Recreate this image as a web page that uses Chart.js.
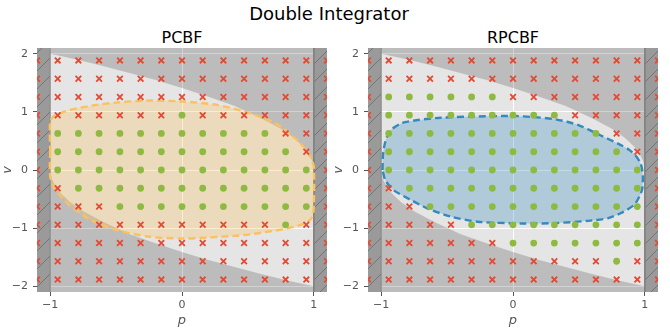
<!DOCTYPE html>
<html>
<head>
<meta charset="utf-8">
<script src="https://cdn.jsdelivr.net/npm/chart.js@4.4.0/dist/chart.umd.min.js"></script>
<style>
  body { margin: 0; background: #fff; font-family: "DejaVu Sans", sans-serif; }
  #wrap { position: relative; width: 670px; height: 333px; overflow: hidden; }
  canvas { position: absolute; top: 0; }
  .ttl { position: absolute; transform: translate(-50%, -50%); white-space: nowrap; color: #000; }
</style>
</head>
<body>
<div id="wrap">
  <div class="ttl" style="left:329px; top:13px; font-size:18px;">Double Integrator</div>
  <div class="ttl" style="left:182px; top:37px; font-size:16px;">PCBF</div>
  <div class="ttl" style="left:513px; top:37px; font-size:16px;">RPCBF</div>
  <canvas id="pcbf" width="335" height="333" style="left:0px"></canvas>
  <canvas id="rpcbf" width="335" height="333" style="left:331px"></canvas>
</div>
<script>
// grid of sampled states
const pGrid = [-1.1, -0.943, -0.786, -0.629, -0.471, -0.314, -0.157, 0, 0.157, 0.314, 0.471, 0.629, 0.786, 0.943, 1.1];
const vGrid = [1.886, 1.571, 1.257, 0.943, 0.629, 0.314, 0, -0.314, -0.629, -0.943, -1.257, -1.571, -1.886];

const xTicks = [-1, 0, 1];
const yTicks = [-2, -1, 0, 1, 2];

// 1 = safe (green dot), 0 = unsafe (red x); rows follow vGrid, columns pGrid
const pcbfSafe = [
  "000000000000000",
  "000000000000000",
  "000000000000000",
  "000000010000000",
  "011111111111000",
  "011111111111100",
  "011111111111110",
  "001111111111110",
  "000011111111110",
  "000000000000100",
  "000000000000000",
  "000000000000000",
  "000000000000000"
];
const rpcbfSafe = [
  "000000000000000",
  "000000000000000",
  "011111100000000",
  "011111111100000",
  "011111111111000",
  "011111111111100",
  "011111111111110",
  "001111111111110",
  "000111111111110",
  "000001111111110",
  "000000011111110",
  "000000000000100",
  "000000000000000"
];

// boundary of the viable set
const topEdge = [[-1, 2.0], [-0.8, 1.9], [-0.6, 1.79], [-0.4, 1.67], [-0.2, 1.55], [0, 1.41], [0.2, 1.26],
  [0.4, 1.1], [0.6, 0.89], [0.75, 0.71], [0.85, 0.55], [0.92, 0.4], [0.96, 0.28], [0.99, 0.14], [1, 0]];
const lowerEdge = [[-1, 0], [-0.99, -0.14], [-0.96, -0.28], [-0.92, -0.4], [-0.85, -0.55], [-0.75, -0.71],
  [-0.6, -0.89], [-0.4, -1.1], [-0.2, -1.26], [0, -1.41], [0.2, -1.55], [0.4, -1.67], [0.6, -1.79], [0.8, -1.9], [1, -2.0]];

const leftWall = [[-1.2, -2.3], [-1, -2.3], [-1, 2.3], [-1.2, 2.3], [-1.2, -2.3]];
const rightWall = [[1, -2.3], [1.2, -2.3], [1.2, 2.3], [1, 2.3], [1, -2.3]];

// learned safe set outlines
const pcbfOutline = [[-1.0, 0.3], [-1.0, 0.84], [-0.97, 0.93], [-0.9, 1.0], [-0.8, 1.06], [-0.65, 1.12], [-0.5, 1.16],
  [-0.27, 1.195], [0, 1.18], [0.265, 1.12], [0.468, 1.01], [0.646, 0.87], [0.75, 0.75], [0.824, 0.61], [0.89, 0.48],
  [0.94, 0.35], [0.98, 0.2], [1.0, 0.05], [1.0, -0.6], [0.99, -0.8], [0.95, -0.9], [0.88, -0.96], [0.77, -1.02],
  [0.6, -1.08], [0.47, -1.12], [0.137, -1.17], [0, -1.18], [-0.244, -1.15], [-0.5, -1.03], [-0.7, -0.85],
  [-0.855, -0.6], [-0.96, -0.34], [-1.0, -0.11], [-1.0, 0.3]];
const rpcbfOutline = [[-0.99, 0.0], [-0.985, 0.3], [-0.96, 0.55], [-0.92, 0.7], [-0.84, 0.81], [-0.72, 0.86],
  [-0.55, 0.9], [-0.3, 0.92], [0, 0.93], [0.16, 0.91], [0.3, 0.88], [0.41, 0.83], [0.5, 0.77], [0.57, 0.7],
  [0.67, 0.59], [0.8, 0.45], [0.88, 0.35], [0.93, 0.25], [0.97, 0.1], [0.985, -0.1], [0.98, -0.33], [0.96, -0.45],
  [0.92, -0.6], [0.82, -0.74], [0.72, -0.83], [0.57, -0.875], [0.31, -0.915], [0.06, -0.92], [-0.27, -0.89],
  [-0.475, -0.8], [-0.65, -0.66], [-0.78, -0.51], [-0.91, -0.34], [-0.97, -0.17], [-0.99, 0.0]];

const FONT = "'DejaVu Sans', sans-serif";

function toPts(arr) {
  return arr.map(function (a) { return { x: a[0], y: a[1] }; });
}

function markerPoints(mask, want) {
  const pts = [];
  mask.forEach(function (row, j) {
    row.split("").forEach(function (c, i) {
      if (c === want) pts.push({ x: pGrid[i], y: vGrid[j] });
    });
  });
  return pts;
}

function hatch() {
  const c = document.createElement("canvas");
  c.width = 18;
  c.height = 18;
  const g = c.getContext("2d");
  g.fillStyle = "#9a9a9a";
  g.fillRect(0, 0, 18, 18);
  g.strokeStyle = "#747474";
  g.lineWidth = 1;
  g.beginPath();
  g.moveTo(-2, 20);
  g.lineTo(20, -2);
  g.stroke();
  return g.createPattern(c, "repeat");
}
const wallPattern = hatch();

const bgPlugin = {
  id: "bg",
  beforeDraw: function (chart) {
    const a = chart.chartArea;
    chart.ctx.save();
    chart.ctx.fillStyle = "#e5e5e5";
    chart.ctx.fillRect(a.left, a.top, a.right - a.left, a.bottom - a.top);
    chart.ctx.restore();
  }
};

function minus(v) {
  return v < 0 ? "\u2212" + Math.abs(v) : String(v);
}

function region(pts, color, order) {
  return {
    data: toPts(pts), showLine: true, fill: "shape", backgroundColor: color,
    borderWidth: 0, pointRadius: 0, tension: 0, order: order
  };
}

function makeChart(id, mask, outline, fillColor, lineColor) {
  const upper = [[-1, 2.3]].concat(topEdge, [[1, 2.3], [-1, 2.3]]);
  const lower = [[-1, -2.3]].concat(lowerEdge, [[1, -2.3], [-1, -2.3]]);
  new Chart(document.getElementById(id), {
    type: "scatter",
    data: {
      datasets: [
        {
          data: markerPoints(mask, "1"), pointStyle: "circle", pointRadius: 3.4,
          backgroundColor: "#8eba42", borderWidth: 0, clip: 0, order: 1
        },
        {
          data: markerPoints(mask, "0"), pointStyle: "crossRot", pointRadius: 4,
          borderColor: "#e24a33", borderWidth: 1.8, clip: 0, order: 1
        },
        {
          data: toPts(outline), showLine: true, fill: "shape", backgroundColor: fillColor,
          borderColor: lineColor, borderWidth: 2.4, borderDash: [7, 4], pointRadius: 0,
          tension: 0.25, order: 2
        },
        {
          data: toPts(leftWall), showLine: true, fill: "shape", backgroundColor: wallPattern,
          borderColor: "#808080", borderWidth: 1, pointRadius: 0, tension: 0, order: 3
        },
        {
          data: toPts(rightWall), showLine: true, fill: "shape", backgroundColor: wallPattern,
          borderColor: "#808080", borderWidth: 1, pointRadius: 0, tension: 0, order: 3
        },
        region(upper, "rgba(0,0,0,0.175)", 4),
        region(lower, "rgba(0,0,0,0.175)", 4)
      ]
    },
    options: {
      responsive: false,
      animation: false,
      events: [],
      layout: { padding: { top: 48, right: 8, left: 0, bottom: 0 } },
      plugins: { legend: { display: false }, tooltip: { enabled: false } },
      scales: {
        x: {
          type: "linear", min: -1.1, max: 1.1,
          afterBuildTicks: function (s) { s.ticks = xTicks.map(function (v) { return { value: v }; }); },
          afterFit: function (s) { s.height = 41; },
          grid: { color: "#ffffff", lineWidth: 1, tickColor: "#555555", tickLength: 4 },
          border: { display: false },
          ticks: { color: "#555555", padding: 3, maxRotation: 0, font: { family: FONT, size: 11 }, callback: minus },
          title: {
            display: true, text: "p", color: "#555555",
            font: { family: FONT, size: 13, style: "italic" }, padding: { top: 0, bottom: 5 }
          }
        },
        y: {
          type: "linear", min: -2.1, max: 2.1,
          afterBuildTicks: function (s) { s.ticks = yTicks.map(function (v) { return { value: v }; }); },
          afterFit: function (s) { s.width = 37; },
          grid: { color: "#ffffff", lineWidth: 1, tickColor: "#555555", tickLength: 4 },
          border: { display: false },
          ticks: { color: "#555555", padding: 5, font: { family: FONT, size: 11 }, callback: minus },
          title: {
            display: true, text: "v", color: "#555555",
            font: { family: FONT, size: 13, style: "italic" }, padding: { top: 0, bottom: 0 }
          }
        }
      }
    },
    plugins: [bgPlugin]
  });
}

makeChart("pcbf", pcbfSafe, pcbfOutline, "rgba(251,193,94,0.3)", "#fbc15e");
makeChart("rpcbf", rpcbfSafe, rpcbfOutline, "rgba(52,138,189,0.3)", "#348abd");
</script>
</body>
</html>
